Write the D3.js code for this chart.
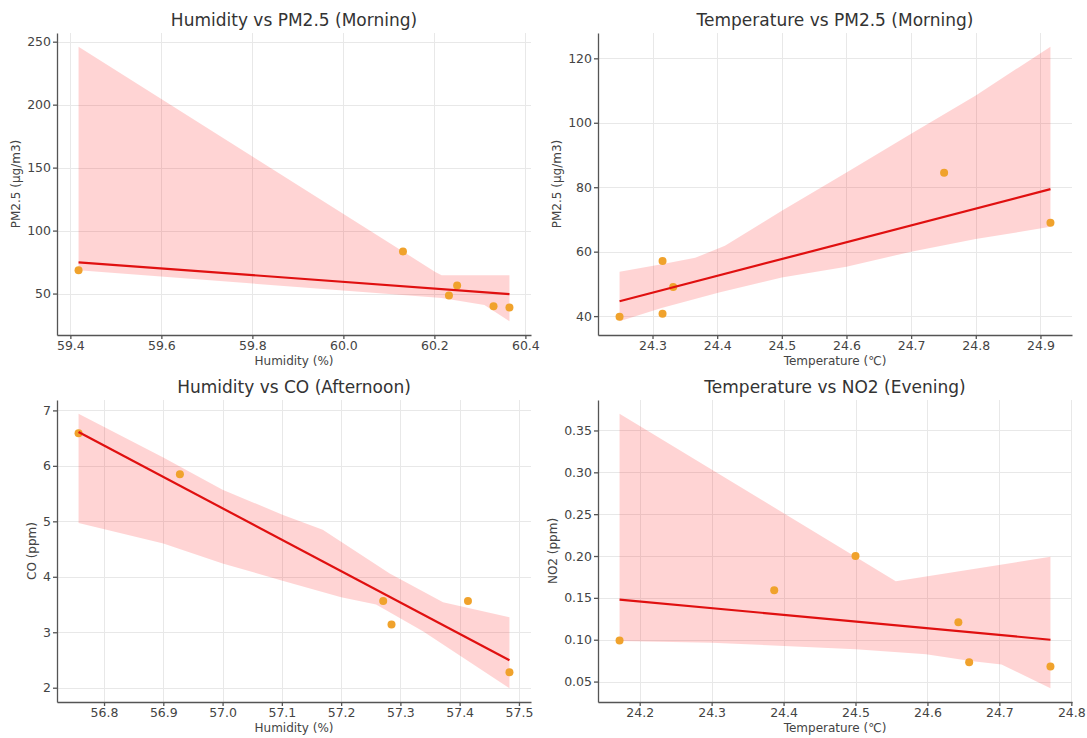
<!DOCTYPE html>
<html>
<head>
<meta charset="utf-8">
<script src="https://cdn.jsdelivr.net/npm/d3@7"></script>
<style>
  body { margin: 0; background: #fff; }
  svg { font-family: "DejaVu Sans", sans-serif; }
  .grid line { stroke: #e8e8e8; shape-rendering: crispEdges; }
  .axis path, .axis line { stroke: #555; stroke-width: 1.3; }
  .axis text { fill: #444; font-size: 12.5px; font-family: "DejaVu Sans", sans-serif; }
  .title { fill: #333; font-size: 17px; }
  .label { fill: #444; font-size: 12px; }
</style>
</head>
<body>
<svg id="chart" width="1087" height="738"></svg>
<script>
// ---- panel texts
const titles = ["Humidity vs PM2.5 (Morning)", "Temperature vs PM2.5 (Morning)",
                "Humidity vs CO (Afternoon)", "Temperature vs NO2 (Evening)"];
const xLabels = ["Humidity (%)", "Temperature (\u2103)", "Humidity (%)", "Temperature (\u2103)"];
const yLabels = ["PM2.5 (\u00b5g/m3)", "PM2.5 (\u00b5g/m3)", "CO (ppm)", "NO2 (ppm)"];

// ---- humidity vs pm2.5 (morning)
const humPmX = [59.418, 60.131, 60.232, 60.250, 60.330, 60.365];
const humPmY = [68.5, 83.5, 48.5, 56.5, 40, 39];
const humPmFitX = [59.418, 60.365];
const humPmFitY = [74.8, 49.6];
const humPmHiX = [59.418, 60.202, 60.216, 60.365];
const humPmHi = [246, 67.2, 64.5, 64.5];
const humPmLoX = [59.418, 60.216, 60.31, 60.365];
const humPmLo = [68.5, 46.5, 41, 28];

// ---- temperature vs pm2.5 (morning)
const tempPmX = [24.249, 24.3155, 24.3155, 24.332, 24.751, 24.9155];
const tempPmY = [39.8, 57.1, 40.7, 49.0, 84.5, 69.0];
const tempPmFitX = [24.249, 24.9155];
const tempPmFitY = [44.6, 79.4];
const tempPmHiX = [24.249, 24.314, 24.366, 24.412, 24.5, 24.6, 24.7, 24.8, 24.9155];
const tempPmHi = [53.8, 56.1, 58.1, 61.8, 72.7, 84.6, 96.6, 108.5, 123.6];
const tempPmLoX = [24.249, 24.314, 24.403, 24.5, 24.6, 24.7, 24.8, 24.9155];
const tempPmLo = [38.4, 42.5, 47.3, 52.0, 55.3, 60.0, 63.9, 67.7];

// ---- humidity vs co (afternoon)
const humCoX = [56.757, 56.928, 57.271, 57.285, 57.414, 57.484];
const humCoY = [6.588, 5.847, 3.565, 3.14, 3.565, 2.277];
const humCoFitX = [56.757, 57.484];
const humCoFitY = [6.61, 2.495];
const humCoHiX = [56.757, 56.9, 57.0, 57.101, 57.169, 57.282, 57.372, 57.484];
const humCoHi = [6.94, 6.15, 5.57, 5.12, 4.85, 4.06, 3.54, 3.27];
const humCoLoX = [56.757, 56.9, 57.0, 57.101, 57.2, 57.259, 57.338, 57.484];
const humCoLo = [4.97, 4.60, 4.24, 3.93, 3.63, 3.50, 3.02, 1.99];

// ---- temperature vs no2 (evening)
const tempNoX = [24.172, 24.387, 24.5, 24.643, 24.658, 24.771];
const tempNoY = [0.099, 0.159, 0.200, 0.121, 0.073, 0.068];
const tempNoFitX = [24.172, 24.771];
const tempNoFitY = [0.148, 0.100];
const tempNoHiX = [24.172, 24.556, 24.771];
const tempNoHi = [0.370, 0.170, 0.199];
const tempNoLoX = [24.172, 24.3, 24.5, 24.598, 24.66, 24.703, 24.771];
const tempNoLo = [0.0985, 0.0965, 0.0885, 0.0825, 0.0745, 0.0705, 0.042];

// ---- ticks
const xTicks = [
  [59.4, 59.6, 59.8, 60.0, 60.2, 60.4],
  [24.3, 24.4, 24.5, 24.6, 24.7, 24.8, 24.9],
  [56.8, 56.9, 57.0, 57.1, 57.2, 57.3, 57.4, 57.5],
  [24.2, 24.3, 24.4, 24.5, 24.6, 24.7, 24.8]
];
const yTicks = [
  [50, 100, 150, 200, 250],
  [40, 60, 80, 100, 120],
  [2, 3, 4, 5, 6, 7],
  [0.05, 0.10, 0.15, 0.20, 0.25, 0.30, 0.35]
];
const yFormats = ["d", "d", "d", ".2f"];

const panels = [
  {px: humPmX, py: humPmY, fx: humPmFitX, fy: humPmFitY, hx: humPmHiX, hi: humPmHi, lx: humPmLoX, lo: humPmLo},
  {px: tempPmX, py: tempPmY, fx: tempPmFitX, fy: tempPmFitY, hx: tempPmHiX, hi: tempPmHi, lx: tempPmLoX, lo: tempPmLo},
  {px: humCoX, py: humCoY, fx: humCoFitX, fy: humCoFitY, hx: humCoHiX, hi: humCoHi, lx: humCoLoX, lo: humCoLo},
  {px: tempNoX, py: tempNoY, fx: tempNoFitX, fy: tempNoFitY, hx: tempNoHiX, hi: tempNoHi, lx: tempNoLoX, lo: tempNoLo}
];

const colLeft = [57, 598], plotW = 474;
const rowTop = [33, 400], plotH = 302;

const svg = d3.select("#chart");

// matplotlib-like autoscale: data extent padded by 5%
function padded(vals) {
  const e = d3.extent(vals), m = (e[1] - e[0]) * 0.05;
  return [e[0] - m, e[1] + m];
}

panels.forEach(function(p, k) {
  const left = colLeft[k % 2], w = plotW, top = rowTop[Math.floor(k / 2)];
  const g = svg.append("g").attr("transform", "translate(" + left + "," + top + ")");

  const x = d3.scaleLinear()
    .domain(padded(p.px.concat(p.fx, p.hx, p.lx)))
    .range([0, w]);
  const y = d3.scaleLinear()
    .domain(padded(p.py.concat(p.fy, p.hi, p.lo)))
    .range([plotH, 0]);

  // grid
  const grid = g.append("g").attr("class", "grid");
  grid.selectAll(".gx").data(xTicks[k]).enter().append("line")
    .attr("x1", d => Math.round(x(d)) + 0.5).attr("x2", d => Math.round(x(d)) + 0.5)
    .attr("y1", 0).attr("y2", plotH);
  grid.selectAll(".gy").data(yTicks[k]).enter().append("line")
    .attr("y1", d => Math.round(y(d)) + 0.5).attr("y2", d => Math.round(y(d)) + 0.5)
    .attr("x1", 0).attr("x2", w);

  // confidence band
  const poly = p.hx.map((v, i) => [x(v), y(p.hi[i])])
    .concat(p.lx.map((v, i) => [x(v), y(p.lo[i])]).reverse());
  g.append("path")
    .attr("d", d3.line()(poly) + "Z")
    .attr("fill", "#ff0000")
    .attr("fill-opacity", 0.17);

  // points
  g.selectAll("circle").data(p.px).enter().append("circle")
    .attr("cx", d => x(d))
    .attr("cy", (d, i) => y(p.py[i]))
    .attr("r", 4)
    .attr("fill", "#f0a22c");

  // fit line
  g.append("path")
    .attr("d", d3.line()(p.fx.map((v, i) => [x(v), y(p.fy[i])])))
    .attr("stroke", "#e01010")
    .attr("stroke-width", 2.2)
    .attr("fill", "none");

  // axes
  g.append("g").attr("class", "axis")
    .attr("transform", "translate(0," + plotH + ")")
    .call(d3.axisBottom(x).tickValues(xTicks[k]).tickFormat(d3.format(".1f"))
      .tickSize(4).tickSizeOuter(0).tickPadding(2));
  const ya = g.append("g").attr("class", "axis")
    .call(d3.axisLeft(y).tickValues(yTicks[k]).tickFormat(d3.format(yFormats[k]))
      .tickSize(4).tickSizeOuter(0).tickPadding(2));

  // texts
  g.append("text").attr("class", "title")
    .attr("x", w / 2).attr("y", -7.5)
    .attr("text-anchor", "middle")
    .text(titles[k]);
  g.append("text").attr("class", "label")
    .attr("x", w / 2).attr("y", plotH + 30)
    .attr("text-anchor", "middle")
    .text(xLabels[k]);
  const bb = ya.node().getBBox();
  g.append("text").attr("class", "label")
    .attr("transform", "translate(" + (bb.x - 7) + "," + (plotH / 2) + ") rotate(-90)")
    .attr("text-anchor", "middle")
    .text(yLabels[k]);
});
</script>
</body>
</html>
